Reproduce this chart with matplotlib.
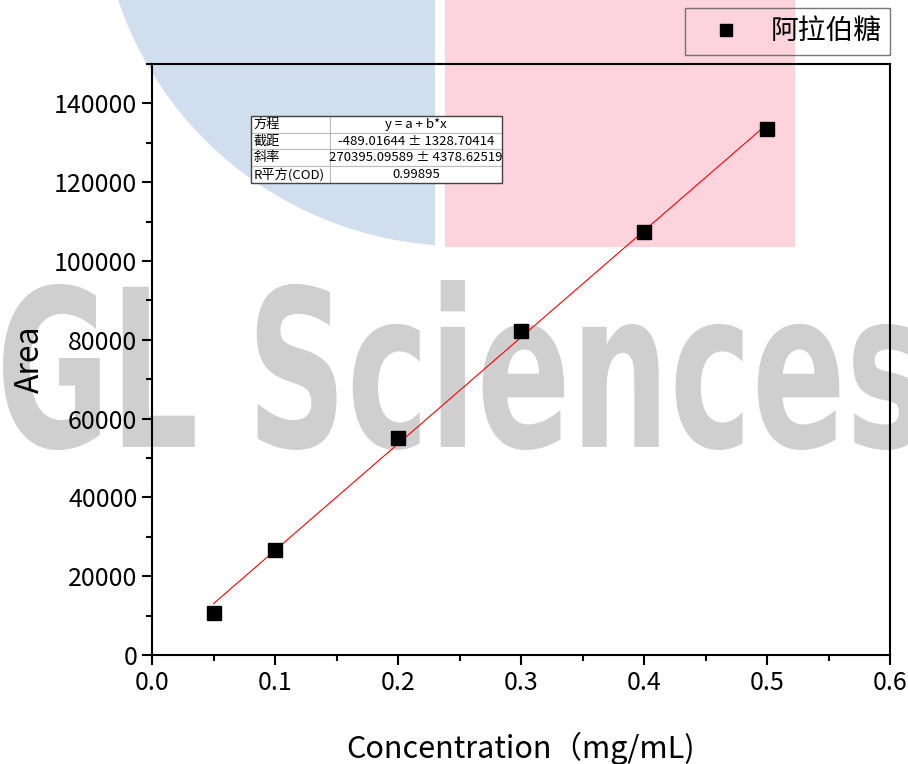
import numpy as np
import matplotlib
matplotlib.use("Agg")
import matplotlib.pyplot as plt
from matplotlib.patches import Circle, Rectangle, PathPatch
from matplotlib.textpath import TextPath
from matplotlib.font_manager import FontProperties
from matplotlib.transforms import Affine2D
from matplotlib.ticker import MultipleLocator

plt.rcParams['font.family'] = ['Noto Sans CJK SC', 'DejaVu Sans']

# data
conc = [0.05, 0.1, 0.2, 0.3, 0.4, 0.5]
area = [10650, 26700, 55000, 82200, 107300, 133400]
series_name = '阿拉伯糖'

# linear fit results shown in the table
intercept = -489.01644
slope = 270395.09589
table_rows = [
    ['方程', 'y = a + b*x'],
    ['截距', '-489.01644 ± 1328.70414'],
    ['斜率', '270395.09589 ± 4378.62519'],
    ['R平方(COD)', '0.99895'],
]

W, H = 908, 764
fig = plt.figure(figsize=(W / 100, H / 100), dpi=100)

# background watermark, drawn in pixel coordinates
bg = fig.add_axes([0, 0, 1, 1], zorder=0)
bg.set_xlim(0, W)
bg.set_ylim(H, 0)
bg.axis('off')

clip = Rectangle((0, 0), 435, 300, transform=bg.transData)
circ = Circle((461, -116), 362, facecolor='#d0deed', edgecolor='none')
bg.add_patch(circ)
circ.set_clip_path(clip)
bg.add_patch(Rectangle((445, 0), 350, 247, facecolor='#fdd4de', edgecolor='none'))

tp = TextPath((0, 0), 'GL Sciences', size=100,
              prop=FontProperties(family='DejaVu Sans', weight='bold'))
bb = tp.get_extents()
sx = (922 - 3) / bb.width
sy = (450 - 280) / bb.height
tr = Affine2D().translate(-bb.x0, -bb.y0).scale(sx, -sy).translate(3, 450)
bg.add_patch(PathPatch(tr.transform_path(tp), facecolor='#cfcfcf', edgecolor='none'))

# main axes
ax = fig.add_axes([152 / W, 1 - 655 / H, 738 / W, 591 / H], zorder=1)
ax.set_facecolor('none')

xf = np.array([conc[0], conc[-1]])
ax.plot(xf, intercept + slope * xf, color='red', lw=0.8, zorder=2)
ax.plot(conc, area, 's', color='black', markersize=10, label=series_name, zorder=3)

ax.set_xlim(0, 0.6)
ax.set_ylim(0, 150000)
ax.xaxis.set_major_locator(MultipleLocator(0.1))
ax.xaxis.set_minor_locator(MultipleLocator(0.05))
ax.yaxis.set_major_locator(MultipleLocator(20000))
ax.yaxis.set_minor_locator(MultipleLocator(10000))
ax.tick_params(which='major', length=7, width=1.5, labelsize=18, direction='out')
ax.tick_params(which='minor', length=4, width=1.5, direction='out')
ax.xaxis.set_major_formatter(plt.FuncFormatter(lambda v, p: f'{v:.1f}'))
for s in ax.spines.values():
    s.set_linewidth(1.5)

ax.set_xlabel('Concentration（mg/mL)', fontsize=22, labelpad=26)
ax.set_ylabel('Area', fontsize=23, labelpad=6)

tbl = ax.table(cellText=table_rows, colWidths=[0.315, 0.685],
               bbox=[0.134, 0.799, 0.340, 0.113], zorder=4)
tbl.auto_set_font_size(False)
for (r, c), cell in tbl.get_celld().items():
    cell.set_edgecolor('#bbbbbb')
    cell.set_linewidth(0.8)
    cell.set_facecolor('white')
    cell.get_text().set_fontsize(9.5)
    cell.get_text().set_ha('left' if c == 0 else 'center')
    if c == 0:
        cell.PAD = 0.03
tbl_frame = Rectangle((0.134, 0.799), 0.340, 0.113, transform=ax.transAxes,
                      fill=False, edgecolor='#444444', lw=1.0, zorder=5)
ax.add_patch(tbl_frame)

leg = fig.legend(loc='upper right', bbox_to_anchor=(890 / W, 1 - 8 / H),
                 borderaxespad=0, fontsize=20, frameon=True, fancybox=False,
                 borderpad=0.3, handletextpad=0.4, handlelength=2.4, markerscale=0.9)
leg.get_frame().set_facecolor('none')
leg.get_frame().set_edgecolor('#555555')
leg.get_frame().set_linewidth(1.0)

fig.savefig('out.png', dpi=100)
